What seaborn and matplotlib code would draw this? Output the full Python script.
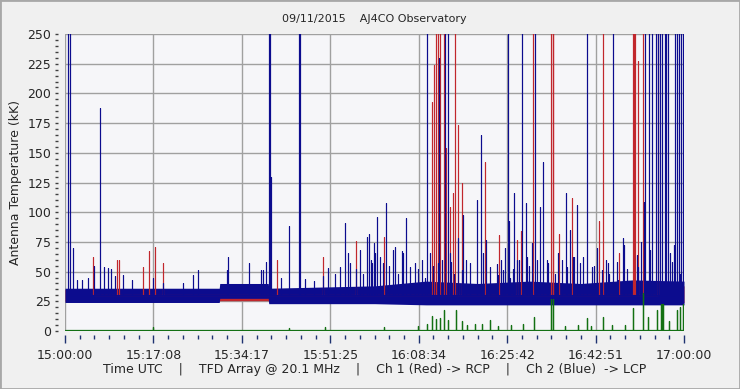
import matplotlib
matplotlib.use("Agg")
import matplotlib.pyplot as plt
import pandas as pd
import seaborn as sns
from matplotlib.patches import Rectangle
from matplotlib.ticker import MultipleLocator

# time axis in minutes after 15:00:00 UTC, temperatures in kK
TICK_MINUTES = [0, 120 / 7, 240 / 7, 360 / 7, 480 / 7, 600 / 7, 720 / 7, 120]
TICK_LABELS = ["15:00:00", "15:17:08", "15:34:17", "15:51:25", "16:08:34", "16:25:42", "16:42:51", "17:00:00"]

# noise floor envelopes
BAND_T = [0, 29.9, 30.0, 39.4, 39.5, 60, 70, 80, 90, 100, 110, 120]
BLUE_LOW = [24, 24, 27.5, 27.5, 23, 23, 22, 22, 22, 22, 22, 22]
BLUE_HIGH = [36, 36, 40, 40, 36, 38, 42, 40, 42, 40, 43, 42]
RED_LOW = [25, 25, 25.5, 25.5, 24, 24, 24, 24, 24, 24, 24, 24]
RED_HIGH = [35, 35, 29, 29, 35, 36, 38, 37, 38, 37, 39, 38]

# Ch 2 (blue) spikes
BLUE_TALL_T = [0.64, 1.03, 39.64, 39.74, 45.36, 45.50, 70.12, 73.72, 74.19, 85.94, 88.54, 91.17,
               101.29, 106.29, 112.44, 113.21, 113.80, 114.57, 114.96, 115.35, 115.74, 116.32,
               116.52, 116.90, 118.26, 118.65, 119.03, 119.42, 119.81, 119.95]
BLUE_T = [1.61, 5.68, 6.84, 7.62, 8.92, 24.87, 25.84, 31.35, 35.73, 38.44, 38.97, 39.61, 39.94,
          41.87, 43.48, 51.04, 53.31, 54.28, 54.92, 55.25, 57.19, 58.49, 58.99, 59.90, 60.43,
          62.17, 63.64, 63.97, 65.39, 66.05, 67.85, 72.45, 76.24, 77.10, 79.81, 79.93, 80.74,
          81.61, 83.69, 86.13, 87.04, 89.31, 92.08, 92.72, 97.12, 97.90, 99.20, 112.25, 117.61,
          119.75,
          2.27, 3.35, 4.52, 8.39, 9.69, 11.30, 12.93, 17.12, 19.06, 22.93, 31.66, 38.0,
          100.5, 102.5, 103.2, 104.8, 105.5, 107.0, 108.3, 109.0, 110.8, 111.6, 113.5, 117.2,
          118.0, 93.5, 94.9, 95.5, 96.3, 98.6, 84.6, 85.3, 86.9, 88.0, 89.9, 90.5, 68.5, 69.2,
          70.8, 71.4, 73.0, 74.8, 75.5, 77.8, 78.6, 61.1, 62.8, 64.6, 56.5, 57.8, 59.3, 46.5,
          48.2, 50.0, 52.3,
          59.46, 60.10, 61.71, 62.23, 63.64, 65.47, 66.88, 69.79, 70.76, 72.37, 74.64, 76.90,
          78.51, 79.81, 81.09, 82.39, 84.00, 84.97, 86.27, 87.57, 89.50, 90.47, 91.44, 93.69,
          96.29, 97.26, 98.54, 99.84, 101.14, 102.11, 104.05, 105.33, 107.26, 108.23, 108.89,
          111.14, 112.44, 113.74, 115.02, 116.32, 117.61, 119.22]
BLUE_V = [70, 55, 188, 54, 52, 47, 51, 51, 57, 51, 58, 162, 130,
          45, 88, 53, 54, 91, 66, 57, 68, 79, 82, 74, 96,
          108, 68, 71, 67, 95, 57, 230, 78, 98, 110, 100, 165,
          77, 56, 93, 116, 108, 104, 142, 116, 85, 106, 109, 58,
          89,
          43, 43, 45, 53, 46, 47, 43, 45, 40, 40, 62, 51,
          62, 55, 70, 60, 48, 58, 72, 52, 64, 75, 68, 66,
          72, 60, 48, 66, 55, 62, 60, 70, 52, 60, 55, 64, 52, 60,
          66, 55, 60, 58, 48, 60, 55, 62, 55, 48, 52, 48, 60, 44,
          42, 46, 48,
          57, 66, 57, 71, 60, 66, 54, 45, 51, 57, 66, 51,
          57, 47, 66, 54, 47, 51, 45, 60, 62, 74, 60, 57,
          60, 54, 62, 57, 51, 54, 51, 57, 43, 78, 48,
          54, 51, 54, 51, 43, 57, 48]

# Ch 1 (red) spikes
RED_TALL_T = [71.98, 72.25, 72.76, 73.47, 75.66, 90.79, 94.31, 94.51, 94.66, 104.30, 110.17,
              110.37, 110.50, 112.11, 115.02]
RED_T = [5.49, 10.02, 10.41, 15.06, 16.34, 17.45, 19.06, 41.04, 49.96, 56.36, 61.84, 71.21,
         71.59, 73.91, 74.63, 75.21, 76.18, 77.02, 81.48, 84.19, 87.57, 88.34, 95.82, 98.34,
         103.58, 107.45, 111.14]
RED_V = [62, 60, 60, 54, 67, 71, 57, 60, 62, 76, 79, 193,
         224, 154, 104, 116, 173, 125, 142, 81, 77, 84, 82, 112,
         93, 66, 227]

# difference channel (green)
GREEN_T = [17.06, 43.4, 50.4, 61.90, 68.5, 70.2, 71.09, 71.92, 72.70, 73.47, 74.25, 75.74, 76.96,
           78.0, 79.48, 80.9, 82.39, 84.0, 86.5, 88.8, 90.98, 94.31, 94.51, 97.0, 99.5, 101.14,
           102.0, 104.24, 106.04, 108.5, 110.17, 112.11, 113.08, 114.71, 115.54, 115.74, 115.99,
           117.0, 118.58, 119.22, 119.75]
GREEN_V = [3, 2.5, 3, 3.6, 4, 6, 13, 10, 11, 18, 9, 18, 8,
           5, 6, 6, 9, 4, 5, 6, 11.5, 27, 27, 4, 5, 11,
           4, 12, 5, 5, 19, 32, 12, 17.7, 23, 23, 23,
           8, 18, 20, 23]

BLUE = "#0c0c8e"
RED = "#c1272d"
GREEN = "#137013"
TOP = 250


def spike_frame(times, values, base):
    rows = []
    for t, v in sorted(zip(times, values)):
        rows += [(t, base), (t, v), (t, base)]
    return pd.DataFrame(rows, columns=["minutes", "kK"])


def main():
    sns.set_theme(style="whitegrid")
    plt.rcParams["font.family"] = ["DejaVu Sans"]

    fig = plt.figure(figsize=(7.4, 3.89), dpi=100)
    fig.patch.set_facecolor("#f0f0f0")
    fig.patches.append(Rectangle((0, 0), 1, 1, transform=fig.transFigure, fill=False,
                                 edgecolor="#a8a8a8", linewidth=2))
    ax = fig.add_axes([65 / 740, 58 / 389, 619 / 740, 297 / 389])
    ax.set_facecolor("#f6f6f9")

    ax.fill_between(BAND_T, RED_LOW, RED_HIGH, color=RED, linewidth=0)
    red = pd.concat([spike_frame(RED_TALL_T, [TOP + 5] * len(RED_TALL_T), 30),
                     spike_frame(RED_T, RED_V, 30)])
    red = red.sort_values("minutes", kind="stable")
    sns.lineplot(data=red, x="minutes", y="kK", sort=False, estimator=None, color=RED,
                 linewidth=0.8, ax=ax)

    ax.fill_between(BAND_T, BLUE_LOW, BLUE_HIGH, color=BLUE, linewidth=0)
    blue = pd.concat([spike_frame(BLUE_TALL_T, [TOP + 5] * len(BLUE_TALL_T), 30),
                      spike_frame(BLUE_T, BLUE_V, 30)])
    blue = blue.sort_values("minutes", kind="stable")
    sns.lineplot(data=blue, x="minutes", y="kK", sort=False, estimator=None, color=BLUE,
                 linewidth=0.8, ax=ax)

    green = spike_frame(GREEN_T, GREEN_V, 0.8)
    green = pd.concat([pd.DataFrame({"minutes": [0.0], "kK": [0.8]}), green,
                       pd.DataFrame({"minutes": [120.0], "kK": [0.8]})])
    sns.lineplot(data=green, x="minutes", y="kK", sort=False, estimator=None, color=GREEN,
                 linewidth=0.9, ax=ax)

    ax.set_xlim(0, 120)
    ax.set_ylim(0, TOP)
    ax.set_xticks(TICK_MINUTES, TICK_LABELS)
    ax.xaxis.set_minor_locator(MultipleLocator(120 / 42))
    ax.set_yticks(range(0, TOP + 1, 25))
    ax.yaxis.set_minor_locator(MultipleLocator(5))
    ax.grid(True, which="major", color="#a0a0a0", linewidth=1)
    ax.grid(False, which="minor")
    ax.set_axisbelow(True)

    for side in ["top", "right"]:
        ax.spines[side].set_visible(False)
    ax.spines["bottom"].set_position(("outward", 3))
    ax.spines["left"].set_position(("outward", 5))
    ax.spines["bottom"].set_color("none")
    ax.spines["left"].set_color("none")

    ax.tick_params(axis="x", which="major", direction="out", length=6, width=1,
                   color="#1e3270", labelsize=9, pad=4, bottom=True)
    ax.tick_params(axis="x", which="minor", direction="out", length=3, width=1,
                   color="#1e3270", bottom=True)
    ax.tick_params(axis="y", which="both", direction="out", length=2, width=1,
                   color="#404040", labelsize=9, pad=3, left=True)

    ax.set_title("09/11/2015    AJ4CO Observatory", fontsize=8, pad=9)
    ax.set_ylabel("Antenna Temperature (kK)", fontsize=9, labelpad=4)
    ax.set_xlabel("Time UTC    |    TFD Array @ 20.1 MHz    |    Ch 1 (Red) -> RCP    |"
                  "    Ch 2 (Blue)  -> LCP", fontsize=9, labelpad=1)

    fig.savefig("out.png", dpi=100, facecolor=fig.get_facecolor())


if __name__ == "__main__":
    main()
